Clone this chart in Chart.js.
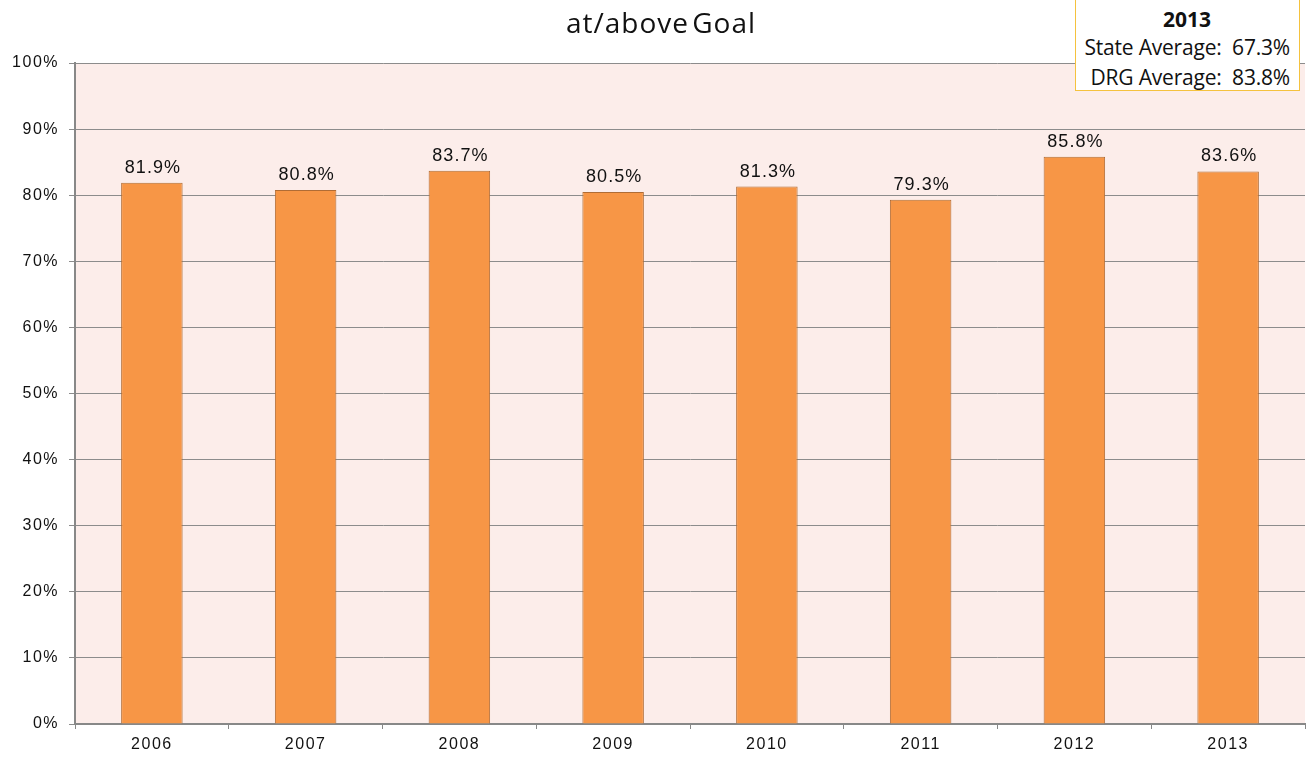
<!DOCTYPE html>
<html lang="en">
<head>
  <meta charset="UTF-8" />
  <title>at/above Goal</title>
  <script src="https://cdn.jsdelivr.net/npm/chart.js"></script>
  <style>
    body {
      margin: 0;
      background: white;
      font-family: "Liberation Sans", Arial, sans-serif;
      overflow: hidden;
    }
    #wrap {
      position: relative;
      width: 1306px;
      height: 759px;
    }
    #title {
      position: absolute;
      left: 560px;
      width: 202px;
      top: 3px;
      text-align: center;
      font-family: "Open Sans", sans-serif;
      font-size: 28px;
      color: #111;
      letter-spacing: 1px;
      word-spacing: -5px;
      white-space: nowrap;
    }
    #infoBox {
      position: absolute;
      left: 1075px;
      top: -1px;
      width: 225px;
      height: 92px;
      border: 1px solid #f5c23e;
      background: white;
      font-family: "Open Sans", sans-serif;
      font-size: 21px;
      color: #111;
      box-sizing: border-box;
      padding-right: 9px;
    }
    #infoBox .yr {
      text-align: center;
      font-weight: bold;
      line-height: 26px;
      margin-top: 6px;
      padding-left: 8px;
    }
    #infoBox .row {
      text-align: right;
      line-height: 30px;
      white-space: pre;
      letter-spacing: -0.2px;
    }
  </style>
</head>
<body>
<div id="wrap">
  <canvas id="goalChart" width="1306" height="759"></canvas>
  <div id="title">at/above Goal</div>
  <div id="infoBox"><div class="yr">2013</div><div class="row">State Average:  67.3%</div><div class="row">DRG Average:  83.8%</div></div>
</div>

<script>
  const years = ['2006', '2007', '2008', '2009', '2010', '2011', '2012', '2013'];
  const pctAtGoal = [81.9, 80.8, 83.7, 80.5, 81.3, 79.3, 85.8, 83.6];
  const yTicks = [0, 10, 20, 30, 40, 50, 60, 70, 80, 90, 100];

  // pink plot background, plus a bit of letter spacing for all canvas text
  const plotBg = {
    id: 'plotBg',
    beforeDraw(chart) {
      const a = chart.chartArea, c = chart.ctx;
      c.letterSpacing = '1.5px';
      c.save();
      c.fillStyle = '#fcedea';
      c.fillRect(a.left, a.top, a.right - a.left, a.bottom - a.top);
      c.restore();
    }
  };

  // value labels over the bars
  const barLabels = {
    id: 'barLabels',
    afterDatasetsDraw(chart) {
      const c = chart.ctx;
      const meta = chart.getDatasetMeta(0);
      c.save();
      c.font = '18px "Liberation Sans", Arial, sans-serif';
      c.letterSpacing = '1px';
      c.fillStyle = '#111';
      c.textAlign = 'center';
      c.textBaseline = 'bottom';
      meta.data.forEach((bar, i) => {
        c.fillText(pctAtGoal[i].toFixed(1) + '%', bar.x + 1, bar.y - 6);
      });
      c.restore();
    }
  };

  new Chart(document.getElementById('goalChart'), {
    type: 'bar',
    data: {
      labels: years,
      datasets: [{
        data: pctAtGoal,
        backgroundColor: '#f79646',
        borderColor: '#b06c35',
        borderWidth: 1,
        barPercentage: 0.4,
        categoryPercentage: 1
      }]
    },
    options: {
      responsive: false,
      animation: false,
      layout: { padding: { top: 63, right: 1, left: 0, bottom: 0 } },
      plugins: {
        legend: { display: false },
        tooltip: { enabled: false }
      },
      scales: {
        x: {
          offset: true,
          grid: {
            offset: true,
            drawOnChartArea: false,
            drawTicks: true,
            tickLength: 5,
            color: '#888'
          },
          border: { color: '#888', width: 2 },
          ticks: {
            color: '#111',
            font: { size: 16, family: '"Liberation Sans", Arial, sans-serif' },
            padding: 6,
            maxRotation: 0
          },
          afterFit(scale) { scale.height = 35; }
        },
        y: {
          min: 0,
          max: 100,
          afterBuildTicks(scale) {
            scale.ticks = yTicks.map(v => ({ value: v }));
          },
          grid: {
            color: '#8c8c8c',
            lineWidth: 1,
            tickLength: 6
          },
          border: { color: '#888', width: 2 },
          ticks: {
            color: '#111',
            font: { size: 16, family: '"Liberation Sans", Arial, sans-serif' },
            padding: 10,
            callback: v => v + '%'
          },
          afterFit(scale) { scale.width = 75; }
        }
      }
    },
    plugins: [plotBg, barLabels]
  });
</script>
</body>
</html>
